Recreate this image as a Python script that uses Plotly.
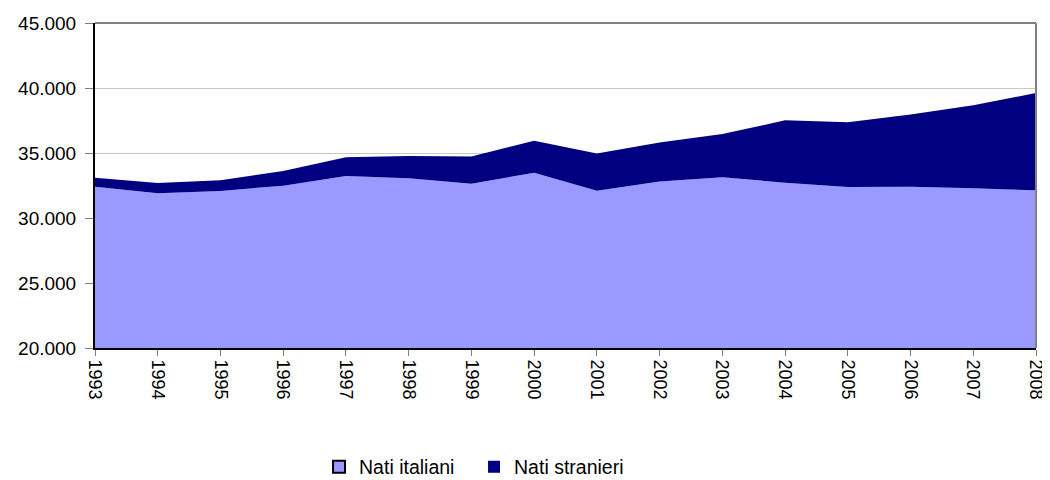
import plotly.graph_objects as go

years = [1993, 1994, 1995, 1996, 1997, 1998, 1999, 2000,
         2001, 2002, 2003, 2004, 2005, 2006, 2007, 2008]
nati_italiani = [32410, 31900, 32080, 32490, 33230, 33050, 32640, 33490,
                 32100, 32800, 33130, 32720, 32380, 32400, 32280, 32130]
nati_totale = [33100, 32690, 32900, 33620, 34670, 34770, 34740, 35950,
               34970, 35800, 36460, 37510, 37360, 37970, 38670, 39620]
nati_stranieri = [t - i for t, i in zip(nati_totale, nati_italiani)]
y_ticks = [20000, 25000, 30000, 35000, 40000, 45000]
y_ticklabels = ["20.000", "25.000", "30.000", "35.000", "40.000", "45.000"]

col_it = "#9999FF"
col_st = "#000080"
FONT = "Liberation Sans, Arial, sans-serif"

fig = go.Figure()
fig.add_trace(go.Scatter(x=years, y=nati_italiani, stackgroup="one", mode="none",
                         fillcolor=col_it, name="Nati italiani", showlegend=False))
fig.add_trace(go.Scatter(x=years, y=nati_stranieri, stackgroup="one", mode="none",
                         fillcolor=col_st, name="Nati stranieri", showlegend=False))
# legend proxies
fig.add_trace(go.Scatter(x=[None], y=[None], mode="markers", name="Nati italiani",
                         marker=dict(symbol="square", size=12, color=col_it,
                                     line=dict(color="black", width=2))))
fig.add_trace(go.Scatter(x=[None], y=[None], mode="markers", name="Nati stranieri",
                         marker=dict(symbol="square", size=14, color=col_st,
                                     line=dict(color=col_st, width=0))))

# page body has an 8px margin, so the figure is sized/offset accordingly
fig.update_layout(
    width=1042, height=472,
    margin=dict(l=87, r=14, t=15, b=132, autoexpand=False),
    paper_bgcolor="white", plot_bgcolor="white",
    font=dict(family=FONT, size=19, color="black"),
    showlegend=True,
    legend=dict(orientation="h", xref="container", yref="container",
                x=0.2985, xanchor="left", y=0.0275, yanchor="middle",
                font=dict(size=19.5), itemsizing="constant", itemwidth=30,
                entrywidth=110, entrywidthmode="pixels",
                traceorder="normal", tracegroupgap=0),
    xaxis=dict(range=[1993, 2008], tickmode="array", tickvals=years,
               ticktext=[str(y) for y in years], tickangle=90,
               ticks="outside", ticklen=6, tickcolor="#808080",
               showline=True, linecolor="black", linewidth=2,
               showgrid=False, zeroline=False, mirror=False,
               automargin=False, ticklabeloverflow="allow",
               ticklabelstandoff=0,
               tickfont=dict(size=18)),
    yaxis=dict(range=[20000, 45000], tickmode="array", tickvals=y_ticks,
               ticktext=y_ticklabels, ticks="outside", ticklen=8, tickcolor="#808080",
               showline=True, linecolor="black", linewidth=2,
               showgrid=True, gridcolor="#C8C8C8", gridwidth=1, zeroline=False,
               automargin=False, ticklabeloverflow="allow",
               ticklabelstandoff=5,
               tickfont=dict(size=19)),
    shapes=[
        dict(type="line", xref="paper", yref="paper", x0=0, x1=1, y0=1, y1=1,
             line=dict(color="#808080", width=2)),
        dict(type="line", xref="paper", yref="paper", x0=1, x1=1, y0=0, y1=1,
             line=dict(color="#808080", width=2)),
    ],
)
fig.write_html("out.html")
